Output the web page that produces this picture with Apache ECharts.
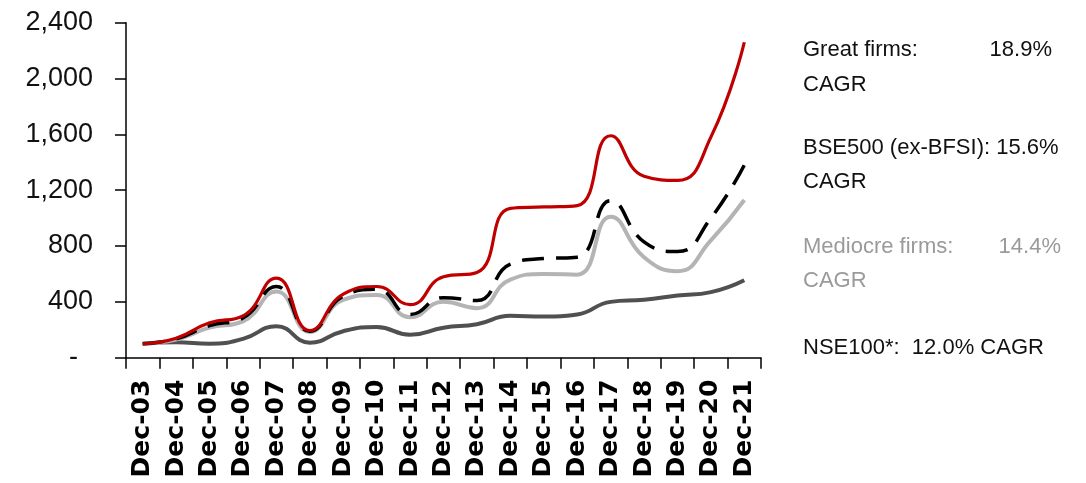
<!DOCTYPE html>
<html>
<head>
<meta charset="utf-8">
<script src="https://cdn.jsdelivr.net/npm/echarts@6/dist/echarts.min.js"></script>
<style>
html,body{margin:0;padding:0;background:#fff;}
#chart{width:1086px;height:483px;}
</style>
</head>
<body>
<div id="chart"></div>
<script>
const categories = ['Dec-03','Dec-04','Dec-05','Dec-06','Dec-07','Dec-08','Dec-09','Dec-10','Dec-11','Dec-12','Dec-13','Dec-14','Dec-15','Dec-16','Dec-17','Dec-18','Dec-19','Dec-20','Dec-21'];
const greatFirms = [100, 140, 250, 300, 570, 195, 455, 510, 380, 580, 610, 1070, 1080, 1090, 1590, 1300, 1270, 1580, 2260];
const bse500exBFSI = [100, 135, 230, 285, 510, 190, 440, 490, 310, 430, 410, 670, 710, 720, 1125, 830, 760, 1000, 1380];
const mediocreFirms = [100, 130, 215, 260, 475, 185, 415, 450, 290, 400, 355, 560, 600, 595, 1010, 720, 620, 840, 1130];
const nse100 = [100, 110, 100, 135, 225, 108, 190, 220, 165, 215, 240, 300, 295, 310, 400, 415, 445, 470, 555];
const yTicks = [0, 400, 800, 1200, 1600, 2000, 2400];
const legendTexts = [
  {label: 'Great firms:', value: '18.9%', line2: 'CAGR', color: '#111111'},
  {label: 'BSE500 (ex-BFSI): 15.6%', value: '', line2: 'CAGR', color: '#111111'},
  {label: 'Mediocre firms:', value: '14.4%', line2: 'CAGR', color: '#9a9a9a'},
  {label: 'NSE100*:  12.0% CAGR', value: '', line2: '', color: '#111111'}
];

const chart = echarts.init(document.getElementById('chart'));
const textFont = '22px "Liberation Sans", Arial, sans-serif';
const legendLayout = [
  {y1: 50, y2: 85, vx: 1052},
  {y1: 148, y2: 182, vx: 1057},
  {y1: 247, y2: 281, vx: 1061},
  {y1: 348, y2: 0, vx: 0}
];
const graphics = [];
legendTexts.forEach((t, i) => {
  const L = legendLayout[i];
  graphics.push({type:'text', x: 803, y: L.y1, style:{text: t.label, font: textFont, fill: t.color, verticalAlign:'middle', align:'left'}});
  if (t.value) graphics.push({type:'text', x: L.vx, y: L.y1, style:{text: t.value, font: textFont, fill: t.color, verticalAlign:'middle', align:'right'}});
  if (t.line2) graphics.push({type:'text', x: 803, y: L.y2, style:{text: t.line2, font: textFont, fill: t.color, verticalAlign:'middle', align:'left'}});
});

function fmt(v){
  if (v === 0) return '{dash|-}';
  return v.toLocaleString('en-US');
}

chart.setOption({
  animation: false,
  backgroundColor: '#ffffff',
  grid: {left: 126, right: 325, top: 22.7, bottom: 125.3, containLabel: false},
  xAxis: {
    type: 'category',
    data: categories,
    boundaryGap: true,
    axisLine: {show: true, lineStyle: {color: '#000', width: 1.5}},
    axisTick: {show: true, inside: false, length: 11, alignWithLabel: false, interval: 0, lineStyle: {color:'#000', width: 1.5}},
    axisLabel: {rotate: 90, interval: 0, margin: 22, color: '#000', fontWeight: 'bold', fontSize: 25, fontFamily: '"DejaVu Sans", sans-serif'},
    splitLine: {show: false}
  },
  yAxis: {
    type: 'value',
    min: yTicks[0],
    max: yTicks[yTicks.length - 1],
    interval: 400,
    axisLine: {show: true, lineStyle: {color: '#000', width: 1.5}},
    axisTick: {show: true, inside: false, length: 11, lineStyle: {color:'#000', width: 1.5}},
    axisLabel: {margin: 33, color: '#111', fontSize: 27, fontFamily: '"Liberation Sans", sans-serif',
      formatter: fmt,
      rich: {dash: {fontSize: 27, color:'#111', padding: [0, 15, 0, 0], fontFamily: '"Liberation Sans", sans-serif'}}},
    splitLine: {show: false}
  },
  series: [
    {name: 'NSE100*', type: 'line', data: nse100, smooth: 0.5, symbol: 'none', lineStyle: {color: '#505050', width: 4}, z: 2},
    {name: 'Mediocre firms', type: 'line', data: mediocreFirms, smooth: 0.5, symbol: 'none', lineStyle: {color: '#b4b4b4', width: 4}, z: 3},
    {name: 'BSE500 (ex-BFSI)', type: 'line', data: bse500exBFSI, smooth: 0.5, symbol: 'none', lineStyle: {color: '#000000', width: 3.5, type: [22, 12]}, z: 4},
    {name: 'Great firms', type: 'line', data: greatFirms, smooth: 0.5, symbol: 'none', lineStyle: {color: '#c00000', width: 3.2}, z: 5}
  ],
  graphic: graphics
});
</script>
</body>
</html>
